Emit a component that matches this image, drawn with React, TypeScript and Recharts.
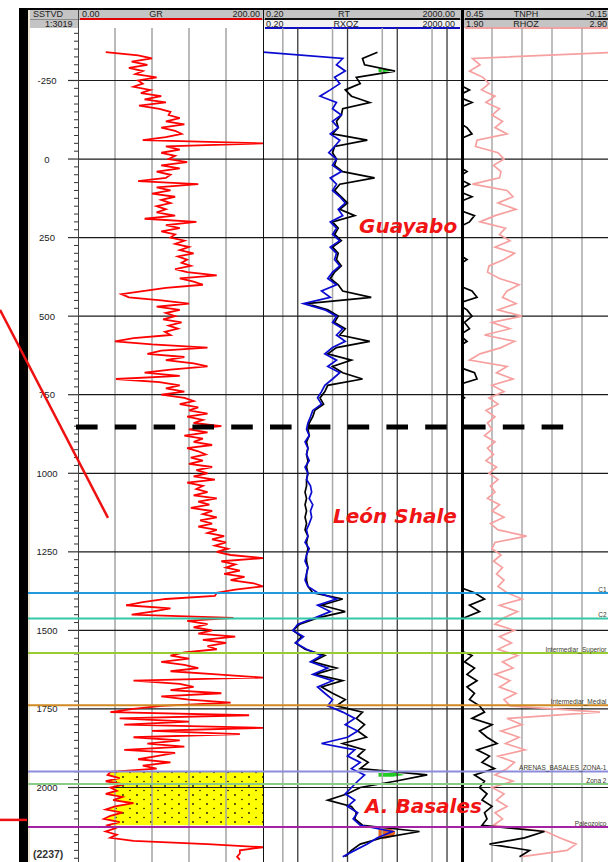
import React from 'react';
import { ComposedChart, Line, Area, XAxis, YAxis, ReferenceLine } from 'recharts';

// print window (SSTVD, m) and its place on the page
const DEPTH_TOP = -417;
const DEPTH_BOTTOM = 2237;
const PLOT_TOP = 28;
const PLOT_H = 834;
const FONT = '"Liberation Sans", Arial, sans-serif';

const depthLabels = [-250, 0, 250, 500, 750, 1000, 1250, 1500, 1750, 2000];
const minorTicks = Array.from({ length: 106 }, (_, i) => -400 + i * 25);

// GR (API), read every 10 m starting at -340
const grStart = -340;
const grStep = 10;
const grValues = [
  30, 65, 80, 58, 75, 55, 70, 62, 85, 65,
  70, 60, 78, 68, 90, 72, 95, 66, 88, 100,
  98, 110, 95, 115, 90, 105, 112, 95, 70, 200,
  95, 110, 90, 105, 98, 118, 90, 110, 85, 100,
  95, 65, 130, 85, 100, 80, 105, 90, 100, 85,
  95, 85, 105, 72, 128, 95, 110, 90, 105, 100,
  115, 105, 120, 110, 125, 108, 118, 112, 122, 105,
  118, 150, 110, 125, 135, 95, 70, 47, 55, 90,
  120, 85, 110, 95, 105, 92, 112, 98, 108, 94,
  100, 60, 40, 80, 140, 90, 75, 115, 95, 125,
  140, 100, 72, 110, 41, 88, 110, 95, 115, 90,
  115, 125, 110, 130, 120, 140, 118, 135, 125, 155,
  120, 140, 115, 135, 125, 145, 118, 130, 138, 122,
  135, 120, 145, 128, 140, 125, 148, 118, 135, 128,
  140, 125, 150, 130, 142, 122, 145, 135, 150, 132,
  145, 130, 150, 140, 158, 145, 160, 148, 162, 150,
  165, 200, 155, 170, 160, 175, 158, 180, 165, 190,
  200, 170, 150, 148, 95, 70, 52, 100, 80, 58,
  168, 118, 140, 125, 145, 130, 170, 135, 160, 140,
  150, 115, 100, 120, 90, 115, 130, 100, 150, 200,
  60, 110, 125, 100, 155, 90, 120, 165, 90, 60,
  35, 185, 45, 120, 50, 200, 80, 175, 60, 110,
  75, 115, 50, 105, 85, 65, 100, 70, 85, 35,
  32, 45, 30, 50, 35, 42, 30, 48, 38, 60,
  40, 30, 48, 35, 28, 45, 32, 40, 30, 42,
  35, 60, 140, 200, 175, 175, 172, 175,
];

// resistivity and density/neutron, read every 20 m starting at -340
const logStart = -340;
const logStep = 20;
const rxozValues = [
  0.2, 8, 6, 9, 5.5, 7, 4.5, 2.8, 6, 5,
  7.5, 5, 6.5, 4.5, 7, 5.5, 4.2, 6, 5, 7.5,
  4.5, 6, 5, 7, 9, 6.5, 8, 4.5, 6, 5,
  7, 4.5, 6, 5.5, 7, 5, 4, 6, 3, 4.5,
  1.3, 3.5, 6, 5, 8, 6, 9, 5, 3.5, 6,
  4, 7, 5, 3.5, 3, 2.5, 3, 2, 1.8, 1.6,
  1.5, 1.7, 1.4, 1.6, 1.5, 1.7, 1.4, 1.6, 1.5, 1.8,
  1.9, 1.7, 2, 1.8, 1.9, 1.7, 1.5, 1.6, 1.4, 1.7,
  1.5, 1.4, 1.6, 1.5, 1.4, 1.6, 2.5, 6, 2.5, 4.5,
  2.2, 1.0, 0.8, 1.3, 0.9, 1.5, 3, 1.8, 4, 2,
  5, 2.5, 3.5, 5, 4, 8, 14, 9, 16, 10,
  3, 14, 10, 18, 12, 22, 16, 12, 9, 14,
  10, 16, 13, 18, 80, 40, 25, 14, 8,
];
const rtValues = [
  40, 20, 22, 90, 15, 18, 9, 12, 28, 8,
  7.5, 6, 6.5, 5, 25, 5.5, 5, 6, 5.5, 8,
  35, 7, 5.5, 7.5, 10, 7, 14, 5, 6.5, 5.5,
  7.5, 5, 6.5, 6, 7.5, 5.5, 4.5, 6.5, 8, 30,
  1.5, 4, 6.5, 5.5, 9, 7, 28, 6, 4, 12,
  5, 8, 20, 4, 3.5, 2.8, 3.3, 2.2, 2, 1.7,
  1.6, 1.7, 1.5, 1.6, 1.5, 1.6, 1.5, 1.6, 1.5, 1.5,
  1.4, 1.5, 1.4, 1.5, 1.4, 1.5, 1.4, 1.6, 1.5, 1.6,
  1.5, 1.5, 1.6, 1.5, 1.5, 1.6, 2, 8, 3, 9,
  2.5, 1.1, 0.8, 1.2, 0.9, 1.4, 3.5, 2, 6, 2.2,
  8, 3, 5, 9, 6, 20, 15, 22, 16, 24,
  8, 22, 16, 26, 18, 400, 90, 18, 10, 4,
  12, 15, 14, 20, 280, 50, 18, 12, 9,
];
const rhozValues = [
  2.95, 1.97, 2.02, 1.95, 2.04, 2.08, 2.03, 2.12, 2.06, 2.15,
  2.10, 2.17, 2.12, 2.20, 2.00, 1.99, 2.14, 2.18, 2.11, 2.16,
  2.15, 1.97, 2.20, 2.24, 2.14, 2.26, 2.12, 2.02, 2.19, 2.15,
  2.22, 2.12, 2.25, 2.18, 2.08, 2.07, 2.15, 2.28, 2.20, 2.17,
  2.26, 2.14, 2.30, 2.10, 2.22, 2.05, 2.25, 2.16, 2.02, 1.95,
  2.20, 2.13, 2.24, 2.10, 2.18, 2.08, 2.14, 2.06, 2.12, 2.07,
  2.10, 2.05, 2.12, 2.07, 2.11, 2.06, 2.13, 2.08, 2.14, 2.09,
  2.12, 2.07, 2.15, 2.10, 2.18, 2.09, 2.14, 2.33, 2.12, 2.10,
  2.16, 2.11, 2.17, 2.13, 2.18, 2.14, 2.20, 2.30, 2.15, 2.27,
  2.18, 2.12, 2.25, 2.15, 2.23, 2.14, 2.27, 2.17, 2.24, 2.12,
  2.22, 2.15, 2.26, 2.18, 2.22, 2.82, 2.20, 2.30, 2.16, 2.28,
  2.19, 2.32, 2.14, 2.25, 2.20, 2.12, 2.24, 2.10, 2.18, 2.13,
  2.20, 2.12, 2.17, 2.11, 2.46, 2.55, 2.66, 2.60, 2.30,
];
const tnphValues = [
  0.47, 0.47, 0.47, 0.47, 0.47, 0.47, 0.42, 0.47, 0.41, 0.47,
  0.47, 0.47, 0.43, 0.41, 0.47, 0.47, 0.47, 0.47, 0.47, 0.43,
  0.47, 0.42, 0.47, 0.41, 0.47, 0.47, 0.40, 0.42, 0.47, 0.47,
  0.47, 0.47, 0.47, 0.43, 0.47, 0.47, 0.47, 0.47, 0.41, 0.39,
  0.47, 0.43, 0.41, 0.44, 0.42, 0.46, 0.43, 0.47, 0.47, 0.47,
  0.47, 0.40, 0.39, 0.47, 0.47, 0.44, 0.47, 0.47, 0.47, 0.47,
  0.47, 0.47, 0.47, 0.47, 0.47, 0.47, 0.47, 0.47, 0.47, 0.47,
  0.47, 0.47, 0.47, 0.47, 0.47, 0.47, 0.47, 0.47, 0.47, 0.47,
  0.47, 0.47, 0.47, 0.47, 0.47, 0.47, 0.40, 0.36, 0.42, 0.38,
  0.44, 0.47, 0.47, 0.47, 0.47, 0.47, 0.41, 0.44, 0.40, 0.43,
  0.39, 0.43, 0.40, 0.42, 0.38, 0.36, 0.41, 0.33, 0.38, 0.35,
  0.31, 0.39, 0.34, 0.37, 0.32, 0.40, 0.36, 0.38, 0.35, 0.37,
  0.33, 0.36, 0.35, 0.37, 0.12, 0.20, 0.34, 0.18, 0.22,
];

// shaded intervals
const sandTop = 1950;
const sandBase = 2120;
const greenTopDepths = [-288, -282, -276];
const greenTopBands = [[42, 50], [42, 88], [42, 50]];
const greenSandDepths = [1954, 1960, 1966];
const greenSandBands = [[42, 100], [42, 140], [42, 80]];
const orangeDepths = [2130, 2138, 2146, 2154, 2162];
const orangeBands = [[42, 70], [42, 90], [42, 90], [42, 85], [42, 60]];

// formation tops
const formationNames = ['C1', 'C2', 'Intermediar_Superior', 'Intermediar_Medial', 'ARENAS_BASALES_ZONA-1', 'Zona 2', 'Paleozoico'];
const formationDepths = [1381, 1462, 1572, 1738, 1949, 1989, 2126];
const FORMATION_COLORS = ['#2299dd', '#33c8a8', '#99cc33', '#d08a22', '#8c8cdc', '#88cc88', '#a522a5'];
const shaleTop = 853;

const grGrid = [40, 80, 120, 160];
const resGridMinor = [0.5, 5, 50, 500];
const resGridMajor = [1, 10, 100, 1000];
const rhozGrid = [2.1, 2.3, 2.5, 2.7];

const grData = grValues.map((gr, i) => ({ depth: grStart + i * grStep, gr }));
const logData = rxozValues.map((rxoz, i) => ({
  depth: logStart + i * logStep,
  rxoz,
  rt: rtValues[i],
  rhoz: rhozValues[i],
  tnph: tnphValues[i],
}));
const sandData = grData.filter((p) => p.depth >= sandTop && p.depth <= sandBase);
const bandData = (depths: number[], bands: number[][]) => depths.map((depth, i) => ({ depth, band: bands[i] }));
const greenTop = bandData(greenTopDepths, greenTopBands);
const greenSand = bandData(greenSandDepths, greenSandBands);
const orangeBase = bandData(orangeDepths, orangeBands);

// in a vertical chart the y range already runs top -> bottom
const depthAxis = (
  <YAxis type="number" dataKey="depth" domain={[DEPTH_TOP, DEPTH_BOTTOM]} hide allowDataOverflow />
);

const Track = ({ left, width, children }: { left: number; width: number; children: React.ReactNode }) => (
  <div style={{ position: 'absolute', left, top: PLOT_TOP, width, height: PLOT_H }}>
    <ComposedChart layout="vertical" width={width} height={PLOT_H} margin={{ top: 0, right: 0, bottom: 0, left: 0 }}>
      {children}
    </ComposedChart>
  </div>
);

const DepthTick = (props: any) => {
  const { y, payload } = props;
  const v = Number(payload.value);
  const major = v % 250 === 0;
  return (
    <g>
      <line x1={major ? 40 : 46} x2={50} y1={y} y2={y} stroke="#333" strokeWidth={major ? 1.2 : 1} />
      {major && (
        <text x={19} y={y + 3.5} textAnchor="middle" fontSize={9.5} fill="#222" fontFamily={FONT}>
          {v}
        </text>
      )}
    </g>
  );
};

const Txt = ({ x, y, anchor = 'start', size = 9, style = {}, children }: any) => {
  const shift = anchor === 'middle' ? 'translateX(-50%)' : anchor === 'end' ? 'translateX(-100%)' : 'none';
  return (
    <div style={{ position: 'absolute', left: x, top: y, transform: shift, fontSize: size, lineHeight: 1, whiteSpace: 'nowrap', color: '#222', ...style }}>
      {children}
    </div>
  );
};

const box = (left: number, top: number, width: number, height: number, background: string) => (
  <div style={{ position: 'absolute', left, top, width, height, background }} />
);

const depthGrid = (axisId?: string) =>
  depthLabels.map((d) => <ReferenceLine key={'h' + d} y={d} xAxisId={axisId ?? 0} stroke="#1a1a1a" strokeWidth={1.2} />);

const bigLabel = { fontFamily: '"DejaVu Sans", sans-serif', fontWeight: 'bold', fontStyle: 'italic', color: '#f01414' };

export default function App() {
  return (
    <div style={{ position: 'absolute', left: 0, top: 0, width: 608, height: 862, overflow: 'hidden', background: '#fff', fontFamily: FONT }}>
      {/* frame and header */}
      {box(19, 8, 9, 854, '#000')}
      {box(19, 8, 589, 2, '#000')}
      {box(28, 10, 2, 852, '#eee8d5')}
      {box(30, 10, 578, 18, '#c4c4c4')}
      {box(79, 19, 184, 9, '#ffffff')}
      {box(264, 19, 198, 9, '#f2f2f2')}
      {box(30, 19, 578, 1, '#8a8a8a')}
      {box(80, 18, 182, 1.5, '#e00000')}
      {box(265, 18, 195, 1.5, '#111')}
      {box(265, 27, 195, 1.5, '#1010c0')}
      {box(465, 18, 143, 1.5, '#111')}
      {box(465, 27, 143, 1.5, '#f4a0a0')}

      <Txt x={33} y={10}>SSTVD</Txt>
      <Txt x={45} y={19.5}>1:3019</Txt>
      <Txt x={82} y={10}>0.00</Txt>
      <Txt x={156} y={10} anchor="middle">GR</Txt>
      <Txt x={260} y={10} anchor="end">200.00</Txt>
      <Txt x={266} y={10}>0.20</Txt>
      <Txt x={344} y={10} anchor="middle">RT</Txt>
      <Txt x={455} y={10} anchor="end">2000.00</Txt>
      <Txt x={266} y={19.5}>0.20</Txt>
      <Txt x={346} y={19.5} anchor="middle">RXOZ</Txt>
      <Txt x={455} y={19.5} anchor="end">2000.00</Txt>
      <Txt x={466} y={10}>0.45</Txt>
      <Txt x={526} y={10} anchor="middle">TNPH</Txt>
      <Txt x={607} y={10} anchor="end">-0.15</Txt>
      <Txt x={466} y={19.5}>1.90</Txt>
      <Txt x={526} y={19.5} anchor="middle">RHOZ</Txt>
      <Txt x={607} y={19.5} anchor="end">2.90</Txt>

      {/* depth track */}
      <Track left={28} width={50}>
        <XAxis type="number" domain={[0, 1]} hide />
        <YAxis
          type="number"
          dataKey="depth"
          domain={[DEPTH_TOP, DEPTH_BOTTOM]}
          allowDataOverflow
          orientation="right"
          mirror
          width={50}
          ticks={minorTicks}
          interval={0}
          tick={DepthTick}
          tickLine={false}
          axisLine={false}
        />
      </Track>

      {/* GR track */}
      <Track left={78} width={185}>
        <defs>
          <pattern id="sand" width="14" height="9" patternUnits="userSpaceOnUse">
            <rect width="14" height="9" fill="#ffff00" />
            <circle cx="3" cy="2" r="0.9" fill="#111" />
            <circle cx="10" cy="6.5" r="0.8" fill="#111" />
          </pattern>
        </defs>
        <XAxis type="number" domain={[0, 200]} hide allowDataOverflow />
        {depthAxis}
        {grGrid.map((v) => <ReferenceLine key={'g' + v} x={v} stroke="#a3a3a3" strokeWidth={1.5} />)}
        {depthGrid()}
        <Area data={sandData} dataKey="gr" baseValue={200} fill="url(#sand)" fillOpacity={1} stroke="none" isAnimationActive={false} />
        <Line data={grData} dataKey="gr" stroke="#ff0000" strokeWidth={1.8} dot={false} isAnimationActive={false} />
      </Track>

      {/* resistivity track */}
      <Track left={263} width={199}>
        <XAxis type="number" scale="log" domain={[0.2, 2000]} hide allowDataOverflow />
        {depthAxis}
        {resGridMinor.map((v) => <ReferenceLine key={'m' + v} x={v} stroke="#a8a8a8" strokeWidth={1.5} />)}
        {resGridMajor.map((v) => <ReferenceLine key={'M' + v} x={v} stroke="#3a3a3a" strokeWidth={1.3} />)}
        {depthGrid()}
        <Area data={greenTop} dataKey="band" fill="#22cc22" fillOpacity={1} stroke="none" isAnimationActive={false} />
        <Area data={greenSand} dataKey="band" fill="#22cc22" fillOpacity={1} stroke="none" isAnimationActive={false} />
        <Area data={orangeBase} dataKey="band" fill="#e8641e" fillOpacity={1} stroke="none" isAnimationActive={false} />
        <Line data={logData} dataKey="rt" stroke="#000" strokeWidth={1.7} dot={false} isAnimationActive={false} />
        <Line data={logData} dataKey="rxoz" stroke="#0a0ad2" strokeWidth={1.7} dot={false} isAnimationActive={false} />
      </Track>

      {/* density / neutron track */}
      <Track left={462} width={150}>
        <XAxis xAxisId="rhoz" type="number" domain={[1.9, 2.9]} hide allowDataOverflow />
        <XAxis xAxisId="tnph" type="number" domain={[-0.15, 0.45]} reversed hide allowDataOverflow />
        {depthAxis}
        {rhozGrid.map((v) => <ReferenceLine key={'r' + v} xAxisId="rhoz" x={v} stroke="#a8a8a8" strokeWidth={1.5} />)}
        {depthGrid('rhoz')}
        <Line data={logData} xAxisId="rhoz" dataKey="rhoz" stroke="#f7a0a0" strokeWidth={1.7} dot={false} isAnimationActive={false} />
        <Line data={logData} xAxisId="tnph" dataKey="tnph" stroke="#000" strokeWidth={1.7} dot={false} isAnimationActive={false} />
      </Track>

      {/* track borders */}
      {box(77.5, 10, 1, 852, '#444')}
      {box(262.5, 10, 1.5, 852, '#111')}
      {box(460.5, 10, 3, 852, '#000')}

      {/* tops, shale marker and annotations */}
      <Track left={0} width={608}>
        <XAxis type="number" domain={[0, 608]} hide allowDataOverflow />
        {depthAxis}
        {formationDepths.map((d, i) => (
          <ReferenceLine
            key={formationNames[i]}
            segment={[{ x: 28, y: d }, { x: 608, y: d }]}
            stroke={FORMATION_COLORS[i]}
            strokeWidth={2}
            label={{ value: formationNames[i], position: 'insideBottomRight', offset: 1.5, fontSize: 6.5, fill: '#3a3a2a', fontFamily: FONT }}
          />
        ))}
        <ReferenceLine segment={[{ x: 76, y: shaleTop }, { x: 563.5, y: shaleTop }]} stroke="#000" strokeWidth={5} strokeDasharray="21.6 17.2" />
        <ReferenceLine segment={[{ x: 0, y: 480 }, { x: 108, y: 1142 }]} stroke="#ee1111" strokeWidth={2.5} />
        <ReferenceLine segment={[{ x: 0, y: 2103 }, { x: 27, y: 2103 }]} stroke="#ee1111" strokeWidth={2.5} />
      </Track>

      <Txt x={359} y={216} size={20} style={bigLabel}>Guayabo</Txt>
      <Txt x={333} y={506} size={20} style={bigLabel}>León Shale</Txt>
      <Txt x={365} y={796} size={20} style={bigLabel}>A. Basales</Txt>
      <Txt x={33} y={849} size={10.5} style={{ fontWeight: 'bold', color: '#333' }}>(2237)</Txt>
    </div>
  );
}
